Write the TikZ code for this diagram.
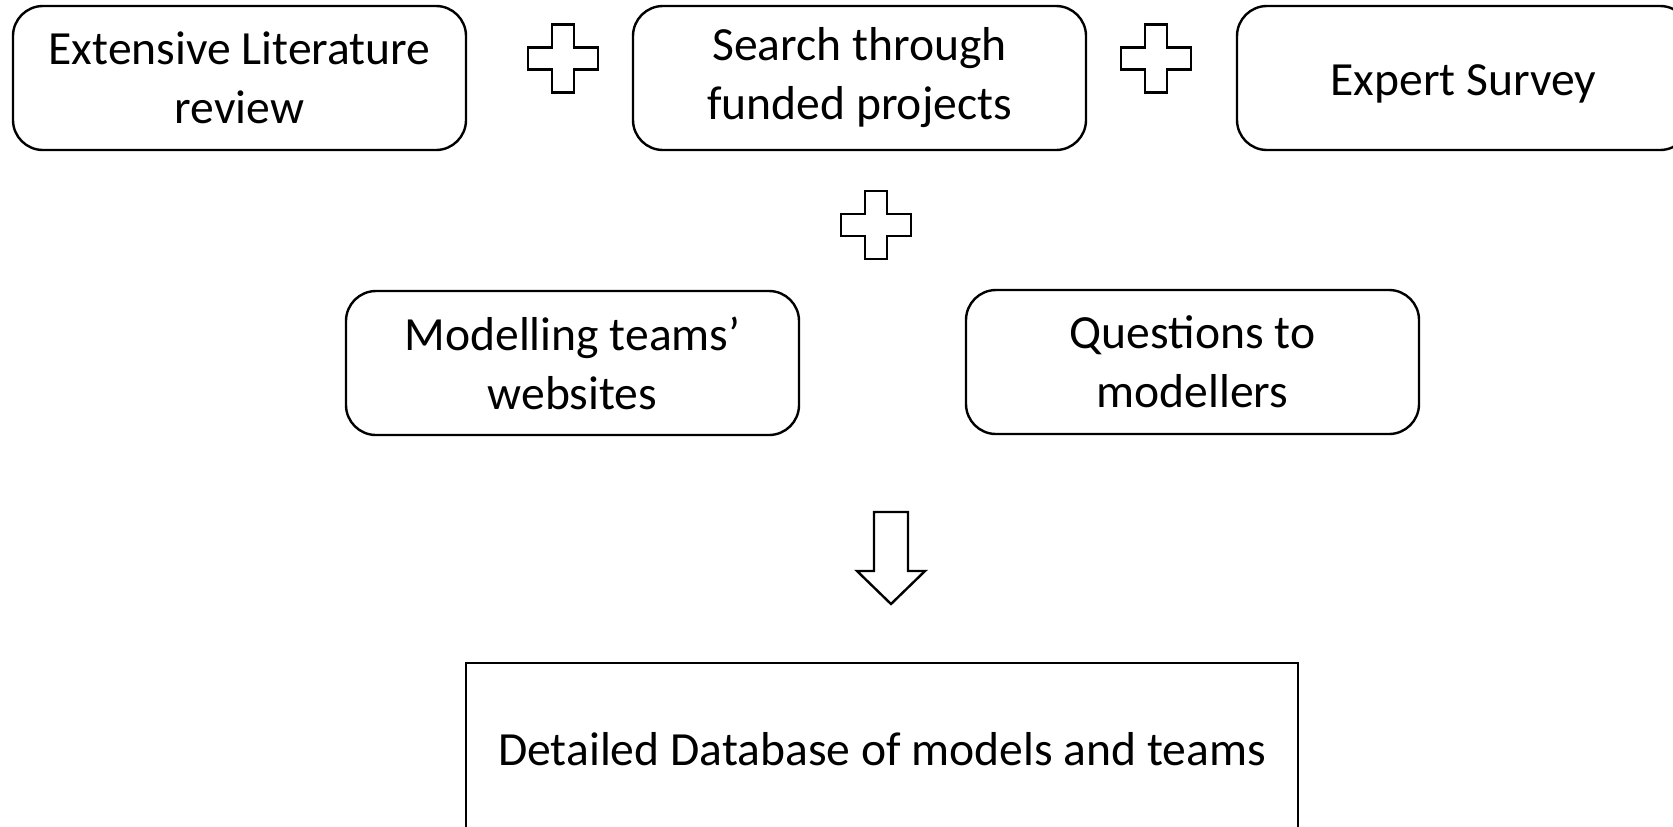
\documentclass[tikz,border=0pt]{standalone}
\usepackage{fontspec}
\setmainfont{Carlito}

\begin{document}
\begin{tikzpicture}[x=0.5pt, y=-0.5pt, font=\fontsize{23.8}{29.5}\selectfont,
  src/.style={draw, line width=1.2pt, rounded corners=15pt, align=center,
    inner sep=0pt, minimum width=226.5pt, minimum height=72pt},
  toprow/.style={src, execute at begin node={\rule{0pt}{#1}}},
  toprow/.default=24.5pt,
  result/.style={draw, line width=1pt, align=center, inner sep=0pt,
    minimum width=416pt, minimum height=86pt},
  plussign/.pic={\draw[line width=1.2pt] (-11,-34) -- (11,-34) -- (11,-11) -- (35,-11)
    -- (35,11) -- (11,11) -- (11,34) -- (-11,34) -- (-11,11) -- (-35,11)
    -- (-35,-11) -- (-11,-11) -- cycle;}]
\useasboundingbox (0,0) rectangle (1673,826);
\clip (0,0) rectangle (1673,826);
% sources
\node[toprow] (lit) at (239.5,78) {Extensive Literature\\review};
\node[toprow] (proj) at (859.5,78) {Search through\\funded projects};
\node[toprow=21pt] (expert) at (1463.5,78) {Expert Survey};
\node[src] (web) at (572.5,363) {Modelling teams’\\websites};
\node[src] (quest) at (1192.5,362) {Questions to\\modellers};
% plus signs
\pic (plusa) at (563,58.5) {plussign};
\pic (plusb) at (1156,58.5) {plussign};
\pic (plusc) at (876,225) {plussign};
% outcome
\node[result] (db) at (882,749) {Detailed Database of models and teams};
\coordinate (arrtop) at (891,512);
\draw[line width=1.2pt] ([xshift=-8.5pt]arrtop) -- ++(0,59) -- ++(-17,0) -- (891,604)
  -- (925,571) -- ++(-17,0) -- ([xshift=8.5pt]arrtop) -- cycle;
\end{tikzpicture}
\end{document}
